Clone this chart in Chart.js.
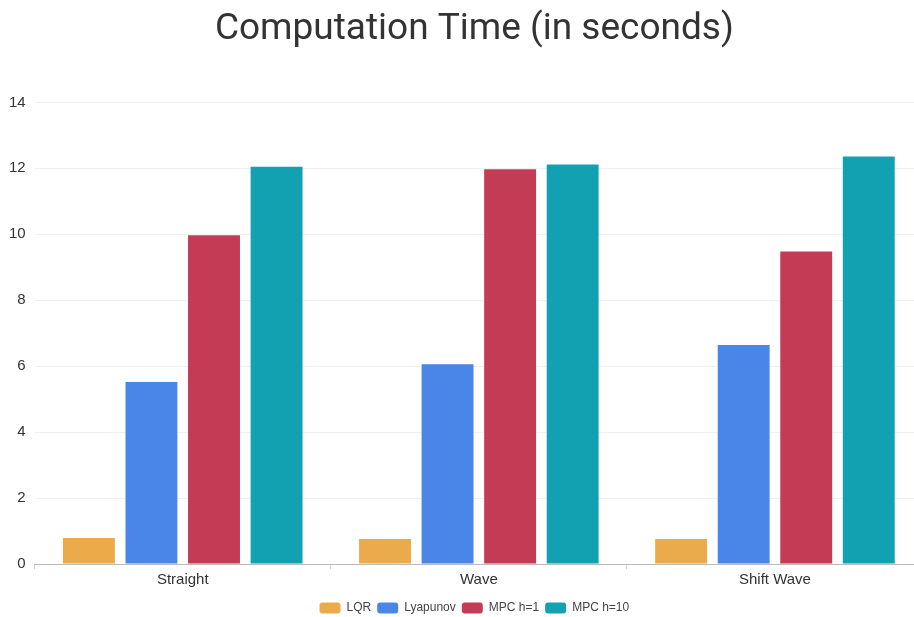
<!DOCTYPE html>
<html>
<head>
<meta charset="utf-8">
<script src="https://cdn.jsdelivr.net/npm/chart.js@4"></script>
<style>
  html, body { margin: 0; padding: 0; background: #ffffff; overflow: hidden; }
  #wrap { width: 914px; height: 617px; position: relative; }
</style>
</head>
<body>
<div id="wrap"><canvas id="chart"></canvas></div>
<script>
// Scenarios on the x axis
const categories = ['Straight', 'Wave', 'Shift Wave'];

// Computation time per controller, in seconds
const lqr = [0.79, 0.76, 0.76];
const lyapunov = [5.52, 6.06, 6.64];
const mpcH1 = [9.97, 11.97, 9.48];
const mpcH10 = [12.05, 12.12, 12.36];

const seriesNames = ['LQR', 'Lyapunov', 'MPC h=1', 'MPC h=10'];
const seriesColors = ['#ecab4a', '#4a86e8', '#c33b54', '#11a1b0'];

const values = [lqr, lyapunov, mpcH1, mpcH10];

// Let the plot area run slightly past the right edge of the canvas
const overhangRight = {
  id: 'overhangRight',
  afterLayout(chart) {
    const extra = 9;
    const x = chart.scales.x;
    x.right += extra;
    x.width += extra;
    x.configure();
    chart.chartArea.right += extra;
    chart.chartArea.width += extra;
  }
};

new Chart(document.getElementById('chart'), {
  type: 'bar',
  data: {
    labels: categories,
    datasets: values.map((v, i) => ({
      label: seriesNames[i],
      data: v,
      backgroundColor: seriesColors[i],
      borderWidth: 0,
      categoryPercentage: 0.845,
      barPercentage: 0.83
    }))
  },
  plugins: [overhangRight],
  options: {
    responsive: true,
    maintainAspectRatio: false,
    animation: false,
    layout: { padding: { left: 0, right: 0, top: 0, bottom: -7 } },
    plugins: {
      title: {
        display: true,
        fullSize: false,
        text: 'Computation Time (in seconds)',
        color: '#333333',
        font: { family: 'Roboto', size: 37, weight: 'normal' },
        padding: { top: 8, bottom: 50 }
      },
      legend: {
        position: 'bottom',
        fullSize: false,
        labels: {
          boxWidth: 21,
          boxHeight: 11,
          useBorderRadius: true,
          borderRadius: 3,
          color: '#444444',
          font: { family: 'Liberation Sans', size: 12 },
          padding: 6
        }
      },
      tooltip: { enabled: false }
    },
    scales: {
      x: {
        afterFit: (scale) => { scale.height += 5; },
        grid: { display: true, drawOnChartArea: false, color: '#cccccc', tickLength: 5 },
        border: { color: '#bbbbbb' },
        ticks: { color: '#333333', padding: 2, font: { family: 'Liberation Sans', size: 15 } }
      },
      y: {
        min: 0,
        max: 14,
        ticks: { stepSize: 2, color: '#333333', padding: 9, font: { family: 'Liberation Sans', size: 15 } },
        grid: { color: '#f0f0f0', drawTicks: false },
        border: { display: false }
      }
    }
  }
});
</script>
</body>
</html>
